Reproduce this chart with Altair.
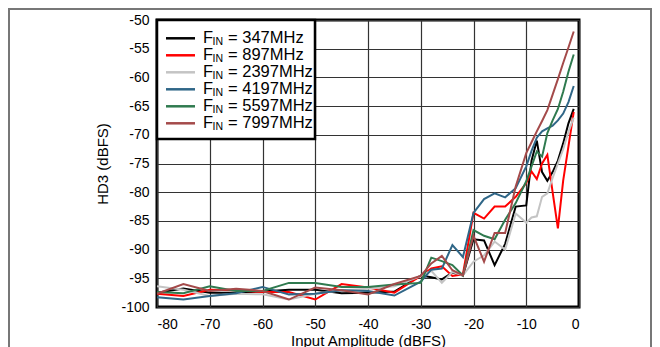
import altair as alt
import pandas as pd

# ---- data ----
x_dbfs = [-80, -75, -70, -65, -60, -55, -50, -45, -40, -35, -30, -28, -26, -24, -22,
          -20, -18, -16, -14, -12, -10, -9, -8, -7, -6, -5, -4, -3, -2, -1]

series_names = ["347MHz", "897MHz", "2397MHz", "4197MHz", "5597MHz", "7997MHz"]

hd3_347 = [-97.5, -96.8, -97.5, -97.5, -97.3, -97.0, -97.0, -97.6, -97.5, -97.3, -94.5, -94.8, -95.2, -94.0, -94.5,
           -88.2, -88.4, -92.7, -89.0, -82.5, -82.3, -74.5, -71.0, -76.5, -78.0, -76.5, -74.5, -71.5, -68.0, -65.5]
hd3_897 = [-97.7, -98.1, -97.0, -97.1, -97.4, -97.4, -98.7, -96.0, -96.6, -97.5, -94.6, -93.3, -92.9, -94.6, -94.3,
           -83.6, -84.6, -82.5, -82.5, -80.8, -78.4, -76.4, -77.7, -75.0, -73.5, -80.0, -86.3, -78.0, -72.0, -66.0]
hd3_2397 = [-96.4, -97.0, -98.1, -97.7, -97.8, -98.7, -97.7, -97.1, -96.8, -96.4, -94.6, -93.7, -95.8, -93.9, -94.5,
             -92.1, -91.0, -88.6, -90.0, -83.7, -85.3, -84.4, -84.2, -80.8, -80.2, -77.5, -75.0, -72.5, -69.5, -67.0]
hd3_4197 = [-98.3, -98.7, -98.1, -97.6, -96.5, -97.8, -97.7, -97.1, -97.2, -98.0, -95.6, -93.5, -93.3, -89.2, -91.3,
             -83.6, -81.2, -80.2, -80.9, -79.3, -75.5, -72.8, -70.5, -69.4, -68.9, -68.4, -67.5, -66.3, -64.3, -61.5]
hd3_5597 = [-97.4, -97.6, -96.4, -97.2, -97.2, -95.8, -95.8, -96.5, -96.5, -96.1, -95.8, -91.4, -92.0, -92.7, -94.5,
             -86.6, -87.6, -88.2, -84.8, -81.9, -78.1, -75.5, -72.9, -73.8, -69.7, -67.5, -65.5, -62.5, -59.0, -56.0]
hd3_7997 = [-97.7, -96.0, -97.2, -96.8, -97.2, -98.7, -96.6, -97.1, -97.8, -96.0, -94.6, -92.4, -91.1, -93.6, -94.5,
             -87.6, -92.1, -87.1, -87.1, -79.0, -73.2, -71.3, -69.4, -67.6, -65.7, -63.0, -60.3, -57.5, -54.8, -52.0]

x_ticks = [-80, -70, -60, -50, -40, -30, -20, -10, 0]
y_ticks = [-100, -95, -90, -85, -80, -75, -70, -65, -60, -55, -50]

all_series = [hd3_347, hd3_897, hd3_2397, hd3_4197, hd3_5597, hd3_7997]
colors = ["#000000", "#ff0000", "#c4c4c4", "#2f6687", "#2f7a4f", "#a44a4a"]

rows = []
for name, vals in zip(series_names, all_series):
    for xv, yv in zip(x_dbfs, vals):
        rows.append({"series": name, "x": xv, "y": yv})
df = pd.DataFrame(rows)

FONT = "Liberation Sans"
W, H = 422, 287
PAD = {"left": 149, "top": 12, "right": 73, "bottom": 40}

xscale = alt.Scale(domain=[-80, 0], nice=False)
yscale = alt.Scale(domain=[-100, -50], nice=False)

X_ENC = alt.X("x:Q", scale=xscale,
              axis=alt.Axis(values=x_ticks, title="Input Amplitude (dBFS)",
                            labelExpr="'' + datum.value", labelOverlap=False,
                            titlePadding=2))
Y_ENC = alt.Y("y:Q", scale=yscale,
              axis=alt.Axis(values=y_ticks, title="HD3 (dBFS)",
                            labelExpr="'' + datum.value", labelOverlap=False,
                            titlePadding=10))

base = alt.Chart(df)

layers = []
for name, col in zip(series_names, colors):
    layers.append(
        base.transform_filter(alt.datum.series == name)
        .mark_line(color=col, strokeWidth=2)
        .encode(x=X_ENC, y=Y_ENC)
    )

# legend box (drawn manually to allow the F_IN subscript)
leg_df = pd.DataFrame({"series": series_names, "idx": list(range(len(series_names)))})
legend_box = alt.Chart(leg_df).mark_rect(fill="white", stroke="black", strokeWidth=2.5).encode(
    x=alt.value(0), x2=alt.value(158), y=alt.value(0), y2=alt.value(119)
).transform_filter(alt.datum.idx == 0)
layers.append(legend_box)

row_y0, row_dy = 18.3, 17.0
for i, (name, col) in enumerate(zip(series_names, colors)):
    yy = row_y0 + i * row_dy
    one = alt.Chart(leg_df).transform_filter(alt.datum.idx == i)
    layers.append(one.mark_rule(color=col, strokeWidth=2.5).encode(
        x=alt.value(9), x2=alt.value(38), y=alt.value(yy)))
    layers.append(one.mark_text(text="F", font=FONT, fontSize=16.5, align="left",
                                baseline="middle", color="black").encode(
        x=alt.value(46), y=alt.value(yy)))
    layers.append(one.mark_text(text="IN", font=FONT, fontSize=10.5, align="left",
                                baseline="middle", color="black").encode(
        x=alt.value(55.5), y=alt.value(yy + 4)))
    layers.append(one.mark_text(font=FONT, fontSize=16.5, align="left",
                                baseline="middle", color="black").encode(
        text=alt.Text("label:N"), x=alt.value(71), y=alt.value(yy)
    ).transform_calculate(label="'= ' + datum.series"))

# outer gray frame
frame = alt.Chart(leg_df).transform_filter(alt.datum.idx == 0)
layers.append(frame.mark_rule(color="#777777", strokeWidth=2).encode(
    x=alt.value(-PAD["left"]), x2=alt.value(W + PAD["right"]), y=alt.value(-11)))
layers.append(frame.mark_rule(color="#777777", strokeWidth=2).encode(
    x=alt.value(-PAD["left"] + 1), y=alt.value(-12), y2=alt.value(H + PAD["bottom"])))
layers.append(frame.mark_rule(color="#777777", strokeWidth=2).encode(
    x=alt.value(W + PAD["right"] - 1), y=alt.value(-12), y2=alt.value(H + PAD["bottom"])))

chart = alt.layer(*layers).properties(
    width=W, height=H,
    autosize=alt.AutoSizeParams(type="none"),
    padding=PAD,
).configure_view(
    stroke="black", strokeWidth=3
).configure_axis(
    grid=True, gridColor="#333333", gridWidth=1.2, gridOpacity=1,
    domain=False, ticks=False,
    labelFont=FONT, labelFontSize=14, labelColor="black", labelPadding=8,
    titleFont=FONT, titleFontSize=15, titleFontWeight="normal", titleColor="black",
).configure_axisX(labelPadding=10)

chart.save("out.html", embed_options={"renderer": "svg", "actions": False})
